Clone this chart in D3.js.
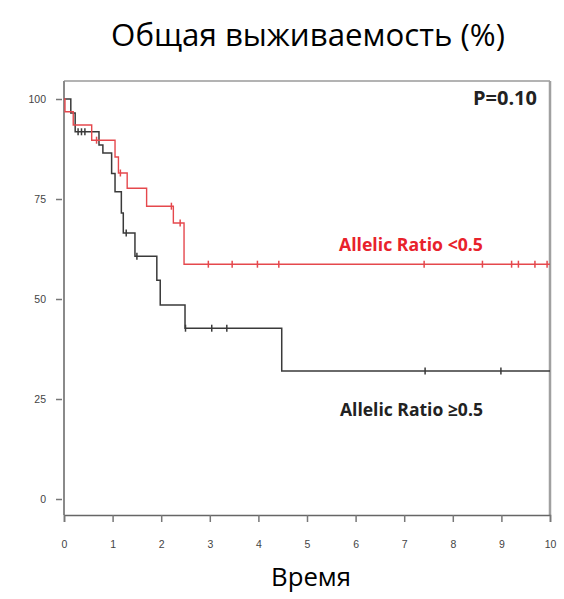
<!DOCTYPE html>
<html>
<head>
<meta charset="utf-8">
<script src="https://cdn.jsdelivr.net/npm/d3@7"></script>
<style>
  body { margin: 0; background: #fff; }
  svg { display: block; }
</style>
</head>
<body>
<svg id="chart"></svg>
<script>
// step times and survival (%) after each step
let redTimes = [0, 0.02, 0.19, 0.57, 1.05, 1.12, 1.30, 1.70, 2.25, 2.47, 10]
let redSurv = [100, 96.8, 93.5, 89.7, 85.5, 81.5, 77.7, 73.2, 69.0, 58.7, 58.7]
let redCensor = [0.67, 1.16, 2.21, 2.39, 2.97, 3.46, 3.98, 4.42, 7.41, 8.61, 9.21, 9.35, 9.69, 9.94]

let blackTimes = [0, 0.14, 0.23, 0.72, 0.80, 0.98, 1.05, 1.18, 1.22, 1.46, 1.91, 1.98, 2.49, 4.48, 10]
let blackSurv = [100, 96.5, 91.8, 88.5, 86.5, 81.4, 76.8, 71.5, 66.5, 60.7, 54.7, 48.5, 42.7, 32.0, 32.0]
let blackCensor = [0.29, 0.36, 0.43, 1.28, 1.50, 2.50, 3.04, 3.35, 7.43, 8.99]

let xTicks = [0, 1, 2, 3, 4, 5, 6, 7, 8, 9, 10]
let yTicks = [0, 25, 50, 75, 100]

let width = 564
let height = 599

let svg = d3.select('#chart')
    .attr('width', width)
    .attr('height', height)

let xScale = d3.scaleLinear().domain([0, 10]).range([64, 550])
let yScale = d3.scaleLinear().domain([0, 100]).range([499, 99])

// fit a text element to a target width by changing font-size
let fit = (sel, target) => {
    let fs = parseFloat(sel.attr('font-size'))
    let w = sel.node().getComputedTextLength()
    sel.attr('font-size', (fs * target / w).toFixed(2))
}

// frame
let frameTop = 81
let frameBottom = 515
svg.append('line').attr('x1', 64).attr('x2', 550).attr('y1', frameTop).attr('y2', frameTop)
    .attr('stroke', '#9a9a9a').attr('stroke-width', 1.5)
svg.append('line').attr('x1', 550).attr('x2', 550).attr('y1', frameTop).attr('y2', frameBottom)
    .attr('stroke', '#a0a0a0').attr('stroke-width', 2.5)
svg.append('line').attr('x1', 64).attr('x2', 64).attr('y1', frameTop).attr('y2', frameBottom)
    .attr('stroke', '#8a8a8a').attr('stroke-width', 2)

// axes
let yAxis = d3.axisLeft(yScale).tickValues(yTicks).tickSize(6).tickPadding(10)
let gy = svg.append('g').attr('transform', 'translate(62,0)').call(yAxis)
gy.select('.domain').remove()

let xAxis = d3.axisBottom(xScale).tickValues(xTicks).tickSize(7).tickPadding(19)
let gx = svg.append('g').attr('transform', 'translate(0,' + frameBottom + ')').call(xAxis)
gx.select('.domain').attr('stroke', '#666').attr('stroke-width', 1.5)

svg.selectAll('.tick line').attr('stroke', '#777').attr('stroke-width', 1.5)
svg.selectAll('.tick text')
    .attr('fill', '#444')
    .attr('font-family', 'Liberation Sans, Arial, sans-serif')
    .attr('font-size', 10.5)

// curves
let line = d3.line()
    .curve(d3.curveStepAfter)
    .x(d => xScale(d[0]))
    .y(d => yScale(d[1]))

let drawCurve = (times, surv, censor, color, w) => {
    let pts = times.map((t, i) => [t, surv[i]])
    svg.append('path')
        .attr('d', line(pts))
        .attr('fill', 'none')
        .attr('stroke', color)
        .attr('stroke-width', w)
    svg.append('g').selectAll('line')
        .data(censor)
        .enter()
        .append('line')
        .attr('x1', d => xScale(d))
        .attr('x2', d => xScale(d))
        .attr('y1', d => yScale(surv[d3.bisectRight(times, d) - 1]) - 3.5)
        .attr('y2', d => yScale(surv[d3.bisectRight(times, d) - 1]) + 3.5)
        .attr('stroke', color)
        .attr('stroke-width', 1.5)
}

drawCurve(blackTimes, blackSurv, blackCensor, '#3a3a3a', 1.5)
drawCurve(redTimes, redSurv, redCensor, '#e5484d', 1.4)

// labels
let lab1 = svg.append('text')
    .attr('x', 339).attr('y', 250.5)
    .attr('font-family', 'Open Sans, sans-serif').attr('font-weight', 'bold')
    .attr('font-size', 14).attr('fill', '#e8222b')
    .text('Allelic Ratio <0.5')
fit(lab1, 144)

let lab2 = svg.append('text')
    .attr('x', 340).attr('y', 416)
    .attr('font-family', 'Open Sans, sans-serif').attr('font-weight', 'bold')
    .attr('font-size', 14).attr('fill', '#222')
    .text('Allelic Ratio ≥0.5')
fit(lab2, 143)

let pval = svg.append('text')
    .attr('x', 473).attr('y', 105)
    .attr('font-family', 'Open Sans, sans-serif').attr('font-weight', 'bold')
    .attr('font-size', 14).attr('fill', '#222')
    .text('P=0.10')
fit(pval, 64)

let title = svg.append('text')
    .attr('x', 308).attr('y', 46)
    .attr('text-anchor', 'middle')
    .attr('font-family', 'Open Sans, sans-serif')
    .attr('font-size', 26).attr('fill', '#000')
    .text('Общая выживаемость (%)')
fit(title, 394)

let xlab = svg.append('text')
    .attr('x', 311).attr('y', 586)
    .attr('text-anchor', 'middle')
    .attr('font-family', 'Open Sans, sans-serif')
    .attr('font-size', 22).attr('fill', '#000')
    .text('Время')
fit(xlab, 80)
</script>
</body>
</html>
